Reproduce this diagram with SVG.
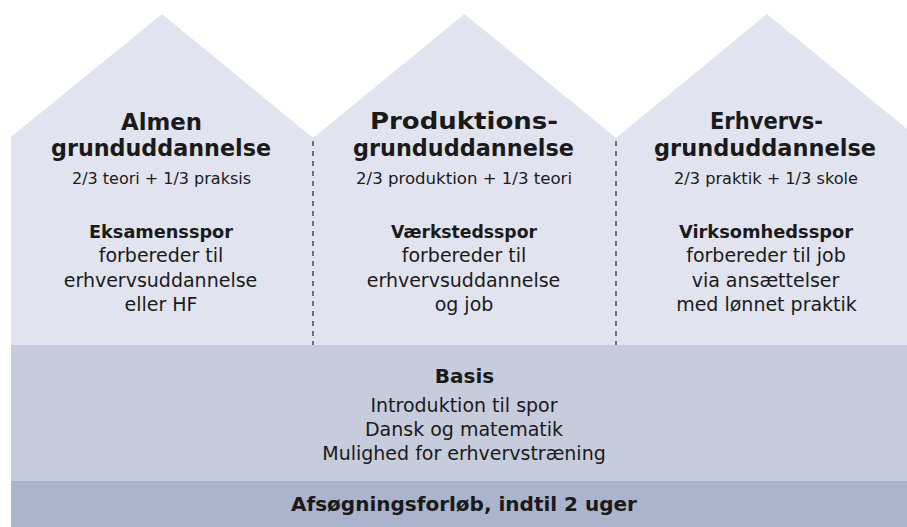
<svg xmlns="http://www.w3.org/2000/svg" width="907" height="527" viewBox="0 0 907 527">
<style>
text{font-family:"DejaVu Sans","Liberation Sans",sans-serif;fill:#1a1a1a;text-anchor:middle}
.house{fill:#e1e4ee}
.t{font-size:22.5px;font-weight:bold}
.s{font-size:16px}
.h{font-size:18px;font-weight:bold}
.b{font-size:19px}
.sep{stroke:#333;stroke-width:1.3;stroke-dasharray:5 5;fill:none}
</style>
<rect width="907" height="527" fill="#ffffff"/>
<g id="house-almen">
<polygon class="house" points="11,345 11,137 162,14 313,138 313,345"/>
<text class="t" x="161.5" y="130" textLength="81" lengthAdjust="spacingAndGlyphs">Almen</text>
<text class="t" x="161" y="156" textLength="220" lengthAdjust="spacingAndGlyphs">grunduddannelse</text>
<text class="s" x="161.5" y="184" textLength="179" lengthAdjust="spacingAndGlyphs">2/3 teori + 1/3 praksis</text>
<text class="h" x="161" y="238" textLength="144" lengthAdjust="spacingAndGlyphs">Eksamensspor</text>
<text class="b" x="161" y="262">forbereder til</text>
<text class="b" x="160.5" y="287">erhvervsuddannelse</text>
<text class="b" x="161" y="311">eller HF</text>
</g>
<g id="house-produktion">
<polygon class="house" points="313,345 313,138 464.5,14 616,138 616,345"/>
<text class="t" x="464" y="129" textLength="188" lengthAdjust="spacingAndGlyphs">Produktions-</text>
<text class="t" x="463.5" y="156" textLength="221" lengthAdjust="spacingAndGlyphs">grunduddannelse</text>
<text class="s" x="464" y="184" textLength="216" lengthAdjust="spacingAndGlyphs">2/3 produktion + 1/3 teori</text>
<text class="h" x="464" y="238" textLength="146" lengthAdjust="spacingAndGlyphs">Værkstedsspor</text>
<text class="b" x="464" y="262">forbereder til</text>
<text class="b" x="463.5" y="287">erhvervsuddannelse</text>
<text class="b" x="464" y="311">og job</text>
</g>
<g id="house-erhverv">
<polygon class="house" points="616,345 616,138 767,14 918,138 918,345"/>
<text class="t" x="766.5" y="129" textLength="113" lengthAdjust="spacingAndGlyphs">Erhvervs-</text>
<text class="t" x="765" y="156" textLength="222" lengthAdjust="spacingAndGlyphs">grunduddannelse</text>
<text class="s" x="766" y="184" textLength="184" lengthAdjust="spacingAndGlyphs">2/3 praktik + 1/3 skole</text>
<text class="h" x="766" y="238" textLength="174" lengthAdjust="spacingAndGlyphs">Virksomhedsspor</text>
<text class="b" x="766" y="262">forbereder til job</text>
<text class="b" x="765.5" y="287">via ansættelser</text>
<text class="b" x="766.5" y="311">med lønnet praktik</text>
</g>
<g id="basis">
<rect x="11" y="345" width="896" height="136" fill="#c6ccdc"/>
<text class="h" x="464.5" y="383" style="font-size:20px">Basis</text>
<text class="b" x="464" y="412">Introduktion til spor</text>
<text class="b" x="464" y="436">Dansk og matematik</text>
<text class="b" x="464" y="460">Mulighed for erhvervstræning</text>
</g>
<g id="afsoegning">
<rect x="11" y="481" width="896" height="46" fill="#aab4cc"/>
<text class="h" x="464" y="511" style="font-size:20px">Afsøgningsforløb, indtil 2 uger</text>
</g>
<g id="connectors">
<line class="sep" x1="313" y1="141" x2="313" y2="345"/>
<line class="sep" x1="616" y1="141" x2="616" y2="345"/>
</g>
</svg>
